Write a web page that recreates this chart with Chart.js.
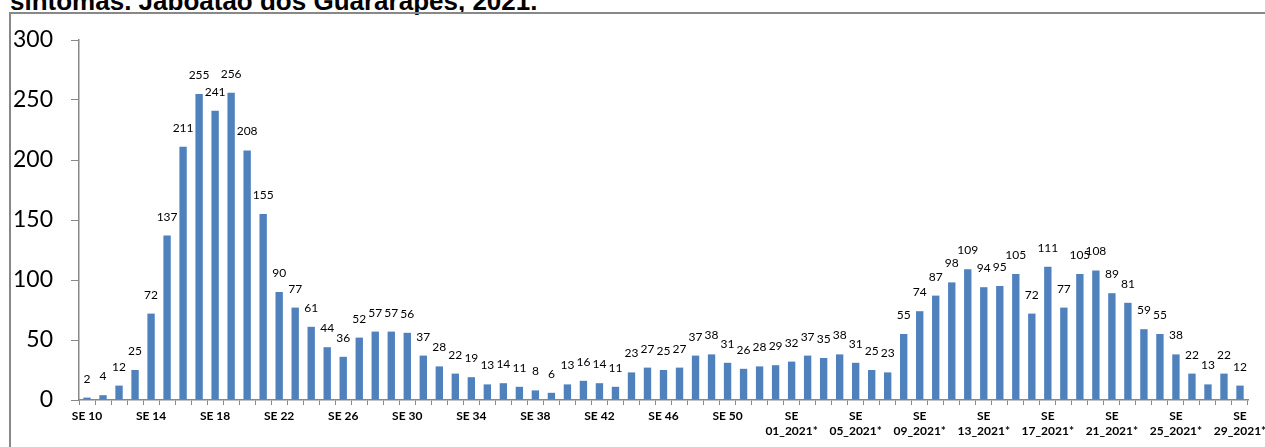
<!DOCTYPE html>
<html>
<head>
<meta charset="utf-8">
<script src="https://cdn.jsdelivr.net/npm/chart.js@4"></script>
<style>
	html, body { margin: 0; padding: 0; background: #fff; overflow: hidden; }
	#wrap { position: relative; width: 1265px; height: 447px; }
	#title {
		position: absolute; left: 10px; top: -12px; white-space: nowrap;
		font: bold 26px "Liberation Sans", Arial, sans-serif; line-height: 26px; color: #000;
	}
	#frame {
		position: absolute; left: 9px; top: 12px; width: 1300px; height: 500px;
		border-left: 2px solid #888; border-top: 2px solid #888;
	}
	#myChart { position: absolute; left: 0; top: 0; }
</style>
</head>
<body>
<div id="wrap">
	<div id="title">sintomas. Jaboatão dos Guararapes, 2021.</div>
	<div id="frame"></div>
	<canvas id="myChart" width="1265" height="447"></canvas>
</div>
<script>
// semanas epidemiológicas: SE 10 a SE 53 de 2020, depois SE 01 a SE 29 de 2021
const weeks2020 = [];
for (let w = 10; w <= 53; w++) weeks2020.push("SE " + w);
const weeks2021 = [];
for (let w = 1; w <= 29; w++) weeks2021.push(["SE", String(w).padStart(2, "0") + "_2021*"]);
const categories = weeks2020.concat(weeks2021);

const casos2020 = [
	2, 4, 12, 25, 72, 137, 211, 255, 241, 256, 208, 155, 90, 77, 61, 44, 36, 52, 57, 57, 56, 37,
	28, 22, 19, 13, 14, 11, 8, 6, 13, 16, 14, 11, 23, 27, 25, 27, 37, 38, 31, 26, 28, 29
];
const casos2021 = [
	32, 37, 35, 38, 31, 25, 23, 55, 74, 87, 98, 109, 94, 95, 105, 72, 111, 77, 105, 108, 89, 81,
	59, 55, 38, 22, 13, 22, 12
];
const casos = casos2020.concat(casos2021);

const yTicks = [0, 50, 100, 150, 200, 250, 300];

const barLabels = {
	id: "barLabels",
	afterDatasetsDraw(chart) {
		const ctx = chart.ctx;
		const meta = chart.getDatasetMeta(0);
		ctx.save();
		ctx.font = "12px Lato";
		ctx.fillStyle = "#000";
		ctx.textAlign = "center";
		ctx.textBaseline = "alphabetic";
		meta.data.forEach((bar, i) => {
			ctx.fillText(casos[i], bar.x, bar.y - 15);
		});
		ctx.restore();
	}
};

const canvas = document.getElementById("myChart");
new Chart(canvas.getContext("2d"), {
	type: "bar",
	data: {
		labels: categories,
		datasets: [{
			data: casos,
			backgroundColor: "#4f81bd",
			borderColor: "#4f81bd",
			borderWidth: 0,
			barPercentage: 0.46,
			categoryPercentage: 1
		}]
	},
	options: {
		responsive: false,
		animation: false,
		events: [],
		layout: { padding: { top: 40, right: 17, left: 0, bottom: 0 } },
		plugins: { legend: { display: false }, tooltip: { enabled: false }, title: { display: false } },
		scales: {
			x: {
				offset: true,
				grid: { offset: true, drawOnChartArea: false, color: "#888", tickLength: 5 },
				border: { color: "#888", width: 1.5 },
				ticks: {
					autoSkip: false,
					maxRotation: 0,
					padding: 3,
					color: "#000",
					font: { family: "Lato", weight: "bold", size: 12, lineHeight: 1.3 },
					callback: function (value, index) {
						return index % 4 === 0 ? this.getLabelForValue(value) : "";
					}
				},
				afterFit: (s) => { s.height = 47; s.paddingLeft = 0; s.paddingRight = 0; }
			},
			y: {
				min: 0,
				max: 300,
				afterBuildTicks: (s) => { s.ticks = yTicks.map((v) => ({ value: v })); },
				grid: { drawOnChartArea: false, color: "#888", tickLength: 8 },
				border: { color: "#888", width: 1.5 },
				ticks: {
					padding: 18,
					color: "#000",
					font: { family: "Lato", size: 23 }
				},
				afterFit: (s) => { s.width = 79; }
			}
		}
	},
	plugins: [barLabels]
});
</script>
</body>
</html>
